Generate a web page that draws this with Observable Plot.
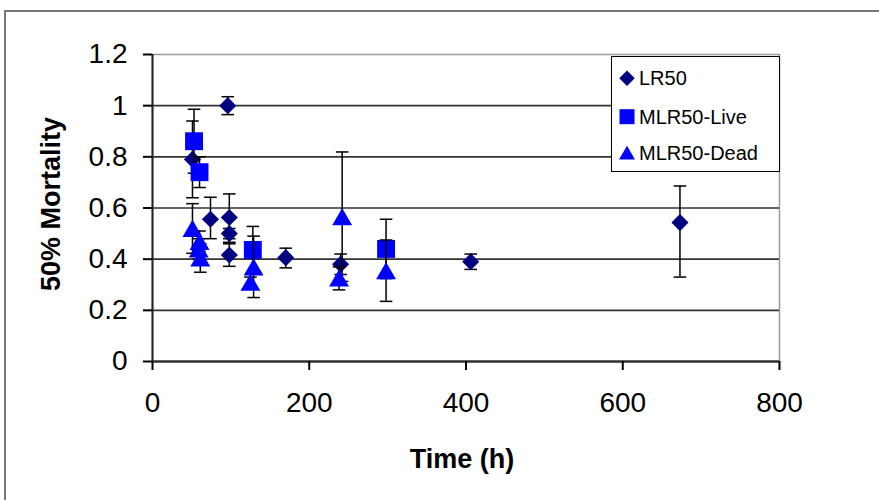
<!DOCTYPE html>
<html>
<head>
<meta charset="utf-8">
<script src="https://cdn.jsdelivr.net/npm/d3@7"></script>
<script src="https://cdn.jsdelivr.net/npm/@observablehq/plot@0.6"></script>
<style>
  html, body { margin: 0; padding: 0; background: #fff; }
  #wrap { position: relative; width: 879px; height: 500px; overflow: hidden; background: #fff; }
  #outer { position: absolute; left: 4px; top: 10px; width: 1000px; height: 1000px; border: 2px solid #777; box-sizing: border-box; }
  #chart { position: absolute; left: 0; top: 0; }
</style>
</head>
<body>
<div id="wrap"><div id="outer"></div><div id="chart"></div></div>
<script>
// ---- Data ----
const seriesNames = ["LR50", "MLR50-Live", "MLR50-Dead"];

const lr50Time  = [51, 96, 74, 98, 98, 98, 170, 240, 406, 673];
const lr50Value = [0.79, 1.00, 0.556, 0.563, 0.50, 0.416, 0.406, 0.38, 0.39, 0.543];
const lr50Low   = [0.64, 0.965, 0.48, 0.466, 0.48, 0.372, 0.366, 0.34, 0.36, 0.33];
const lr50High  = [0.94, 1.035, 0.642, 0.655, 0.52, 0.46, 0.443, 0.42, 0.42, 0.686];

const liveTime  = [53, 60, 128, 298];
const liveValue = [0.861, 0.74, 0.436, 0.44];
const liveLow   = [0.736, 0.68, 0.345, 0.324];
const liveHigh  = [0.986, 0.80, 0.528, 0.556];

const deadTime  = [51, 60, 59, 61, 125, 129, 242, 238, 298];
const deadValue = [0.52, 0.47, 0.44, 0.405, 0.31, 0.37, 0.566, 0.327, 0.355];
const deadLow   = [0.423, 0.43, 0.40, 0.349, 0.29, 0.25, 0.313, 0.28, 0.235];
const deadHigh  = [0.617, 0.51, 0.48, 0.46, 0.33, 0.49, 0.819, 0.37, 0.475];

const xTicks = [0, 200, 400, 600, 800];
const xTickLabels = ["0", "200", "400", "600", "800"];
const yTicks = [0, 0.2, 0.4, 0.6, 0.8, 1.0, 1.2];
const yTickLabels = ["0", "0.2", "0.4", "0.6", "0.8", "1", "1.2"];

const xTitle = "Time (h)";
const yTitle = "50% Mortality";

// ---- Build tables ----
function rows(time, value, low, high, name) {
  return time.map((t, i) => ({ t, v: value[i], lo: low[i], hi: high[i], series: name }));
}
const lr50 = rows(lr50Time, lr50Value, lr50Low, lr50High, seriesNames[0]);
const live = rows(liveTime, liveValue, liveLow, liveHigh, seriesNames[1]);
const dead = rows(deadTime, deadValue, deadLow, deadHigh, seriesNames[2]);

// horizontal cap symbol for error bars
const capSymbol = {
  draw(context, size) {
    const r = Math.sqrt(size / Math.PI);
    context.moveTo(-r, 0);
    context.lineTo(r, 0);
  }
};

function errorMarks(data) {
  return [
    Plot.ruleX(data, { x: "t", y1: "lo", y2: "hi", stroke: "#000", strokeWidth: 1.5 }),
    Plot.dot(data, { x: "t", y: "lo", symbol: capSymbol, r: 6.3, stroke: "#000", strokeWidth: 1.5, fill: "none" }),
    Plot.dot(data, { x: "t", y: "hi", symbol: capSymbol, r: 6.3, stroke: "#000", strokeWidth: 1.5, fill: "none" })
  ];
}

const navy = "#000080";
const blue = "#0000FF";

const chart = Plot.plot({
  width: 879,
  height: 500,
  marginLeft: 152,
  marginRight: 100,
  marginTop: 54,
  marginBottom: 139,
  style: { fontFamily: "'Liberation Sans', Arial, sans-serif", fontSize: "28px", color: "#000", background: "transparent" },
  x: { domain: [0, 800] },
  y: { domain: [0, 1.2] },
  marks: [
    Plot.frame({ stroke: "#999", strokeWidth: 1.5 }),
    Plot.gridY(yTicks.filter(d => d > 0 && d < 1.2), { stroke: "#333", strokeOpacity: 1, strokeWidth: 1.6 }),
    Plot.ruleX([0], { stroke: "#222", strokeWidth: 2 }),
    Plot.ruleY([0], { stroke: "#333", strokeWidth: 2.5 }),
    Plot.axisY(yTicks, {
      anchor: "left", tickSize: 9, tickPadding: 16, strokeWidth: 2, label: null,
      tickFormat: d => yTickLabels[yTicks.indexOf(d)], fontSize: 28
    }),
    Plot.axisX(xTicks, {
      anchor: "bottom", tickSize: 9, tickPadding: 22, strokeWidth: 2, label: null,
      tickFormat: d => xTickLabels[xTicks.indexOf(d)], fontSize: 28
    }),
    ...errorMarks(lr50),
    Plot.dot(lr50, { x: "t", y: "v", symbol: "diamond2", r: 7.7, fill: navy, stroke: "none" }),
    ...errorMarks(live),
    Plot.dot(live, { x: "t", y: "v", symbol: "square", r: 10.1, fill: blue, stroke: "none" }),
    ...errorMarks(dead),
    Plot.dot(dead, { x: "t", y: "v", symbol: "triangle", r: 7.4, fill: blue, stroke: "none", dy: 2.9 })
  ]
});

const svg = d3.select(chart);

// axis titles
svg.append("text")
  .attr("transform", "translate(51,204) rotate(-90)")
  .attr("text-anchor", "middle")
  .attr("dy", "0.35em")
  .attr("font-weight", "bold")
  .attr("font-size", 27)
  .attr("fill", "#000")
  .text(yTitle);

svg.append("text")
  .attr("x", 462)
  .attr("y", 459)
  .attr("text-anchor", "middle")
  .attr("dy", "0.35em")
  .attr("font-weight", "bold")
  .attr("font-size", 27)
  .attr("fill", "#000")
  .text(xTitle);

// legend
const lg = svg.append("g");
lg.append("rect")
  .attr("x", 611.5).attr("y", 56.5).attr("width", 168).attr("height", 115)
  .attr("fill", "#fff").attr("stroke", "#000").attr("stroke-width", 1);
const legendItems = [
  { name: seriesNames[0], type: d3.symbolDiamond2, size: 154, color: navy, y: 78.3, oy: 0 },
  { name: seriesNames[1], type: d3.symbolSquare, size: 225, color: blue, y: 116.7, oy: 0 },
  { name: seriesNames[2], type: d3.symbolTriangle, size: 111, color: blue, y: 152.7, oy: 2.3 }
];
legendItems.forEach(it => {
  lg.append("path")
    .attr("d", d3.symbol(it.type, it.size)())
    .attr("transform", `translate(627,${it.y + it.oy})`)
    .attr("fill", it.color);
  lg.append("text")
    .attr("x", 639).attr("y", it.y).attr("dy", "0.35em")
    .attr("text-anchor", "start")
    .attr("font-size", 20).attr("fill", "#000")
    .text(it.name);
});

document.getElementById("chart").appendChild(chart);
</script>
</body>
</html>
